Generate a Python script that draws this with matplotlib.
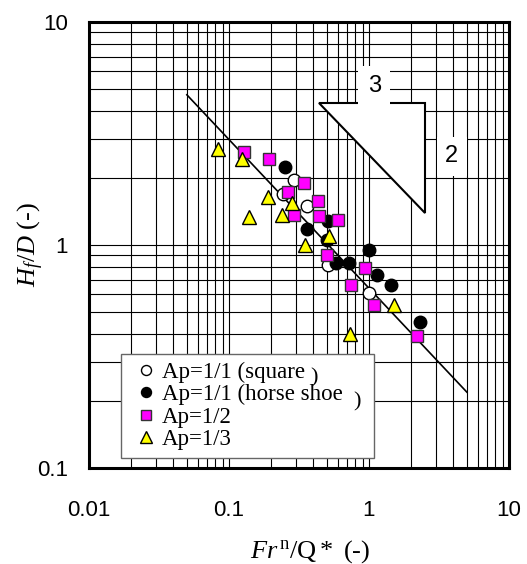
import matplotlib
matplotlib.use("Agg")
import matplotlib.pyplot as plt
from matplotlib.ticker import LogLocator, NullFormatter, FixedLocator, FixedFormatter

plt.rcParams["font.family"] = "Liberation Sans"
plt.rcParams["mathtext.fontset"] = "custom"
plt.rcParams["mathtext.rm"] = "Liberation Serif"
plt.rcParams["mathtext.it"] = "Liberation Serif:italic"

# Ap=1/1 (square)
sq_x = [0.29, 0.245, 0.36, 0.51, 1.0]
sq_y = [1.95, 1.70, 1.49, 0.81, 0.61]
# Ap=1/1 (horse shoe)
hs_x = [0.25, 0.36, 0.51, 0.50, 1.0, 0.58, 0.72, 1.14, 1.43, 2.33]
hs_y = [2.23, 1.18, 1.28, 1.05, 0.95, 0.83, 0.83, 0.73, 0.66, 0.45]
# Ap=1/2
a2_x = [0.127, 0.194, 0.345, 0.265, 0.435, 0.29, 0.44, 0.60, 0.50, 0.94, 0.74, 1.08, 2.2]
a2_y = [2.62, 2.42, 1.90, 1.73, 1.57, 1.37, 1.35, 1.30, 0.90, 0.79, 0.66, 0.54, 0.39]
# Ap=1/3
a3_x = [0.083, 0.124, 0.14, 0.19, 0.28, 0.24, 0.52, 0.35, 1.5, 0.73]
a3_y = [2.70, 2.42, 1.33, 1.65, 1.55, 1.37, 1.10, 1.00, 0.54, 0.40]

# fitted line, Hf/D = 0.64 x^(-2/3)
fit_x = [0.05, 5.0]
fit_y = [0.64 * v ** (-2 / 3) for v in fit_x]

# slope triangle
tri_x = [0.441, 2.51, 2.51, 0.441]
tri_y = [4.32, 4.32, 1.39, 4.32]

fig = plt.figure(figsize=(5.27, 5.64), dpi=100)
ax = fig.add_axes([89 / 527, 1 - 468 / 564, 420 / 527, 446 / 564])
ax.set_xscale("log")
ax.set_yscale("log")
ax.set_xlim(0.01, 10)
ax.set_ylim(0.1, 10)

ax.grid(True, which="both", color="black", lw=0.8, zorder=0)
ax.xaxis.set_minor_locator(LogLocator(base=10, subs=range(2, 10)))
ax.yaxis.set_minor_locator(LogLocator(base=10, subs=range(2, 10)))
ax.xaxis.set_minor_formatter(NullFormatter())
ax.yaxis.set_minor_formatter(NullFormatter())
ax.xaxis.set_major_locator(FixedLocator([0.01, 0.1, 1, 10]))
ax.xaxis.set_major_formatter(FixedFormatter(["0.01", "0.1", "1", "10"]))
ax.yaxis.set_major_locator(FixedLocator([0.1, 1, 10]))
ax.yaxis.set_major_formatter(FixedFormatter(["0.1", "1", "10"]))
ax.tick_params(which="both", length=0)
ax.tick_params(axis="x", pad=23, labelsize=16)
ax.tick_params(axis="y", pad=15, labelsize=16)
for s in ax.spines.values():
    s.set_linewidth(2.2)
    s.set_zorder(10)

ax.plot(fit_x, fit_y, color="black", lw=1.2, zorder=2)
ax.fill(tri_x, tri_y, facecolor="white", edgecolor="black", lw=1.5, zorder=2)
ax.text(1.09, 5.15, "3", fontsize=17, ha="center", va="center",
        bbox=dict(facecolor="white", edgecolor="none", pad=7), zorder=3)
ax.text(3.9, 2.5, "2", fontsize=17, ha="center", va="center",
        bbox=dict(facecolor="white", edgecolor="none", pad=6), zorder=3)

ax.plot(sq_x, sq_y, "o", ms=9, mfc="white", mec="black", mew=1.0, zorder=4,
        label="Ap=1/1 (square")
ax.plot(hs_x, hs_y, "o", ms=9, mfc="black", mec="black", mew=1.0, zorder=5,
        label="Ap=1/1 (horse shoe    ")
ax.plot(a2_x, a2_y, "s", ms=9, mfc="#FF00FF", mec="#333333", mew=1.0, zorder=6,
        label="Ap=1/2")
ax.plot(a3_x, a3_y, "^", ms=10, mfc="#FFFF00", mec="black", mew=1.0, zorder=7,
        label="Ap=1/3")

leg = ax.legend(loc="lower left", bbox_to_anchor=(0.076, 0.022), borderaxespad=0,
                prop={"family": "Liberation Serif", "size": 16.5}, handlelength=1.5,
                handletextpad=-0.05, labelspacing=0.06, borderpad=0.35, fancybox=False,
                framealpha=1, edgecolor="#666666", markerscale=0.8)
leg.set_zorder(20)
leg.get_frame().set_linewidth(1.0)

ax.text(0.535, 0.202, ")", fontsize=16, family="Liberation Serif", ha="center",
        va="center", transform=ax.transAxes, zorder=21)
ax.text(0.638, 0.148, ")", fontsize=16, family="Liberation Serif", ha="center",
        va="center", transform=ax.transAxes, zorder=21)

ax.set_xlabel(r"$\mathit{Fr}^{\,\mathrm{n}}\mathrm{/Q*\ (\text{-})}$", fontsize=19)
ax.xaxis.set_label_coords(0.526, -0.157)
ax.set_ylabel(r"$\mathit{H_f/D}\ \mathrm{(\text{-})}$", fontsize=19)
ax.yaxis.set_label_coords(-0.103, 0.5)

fig.savefig("out.png", dpi=100)
